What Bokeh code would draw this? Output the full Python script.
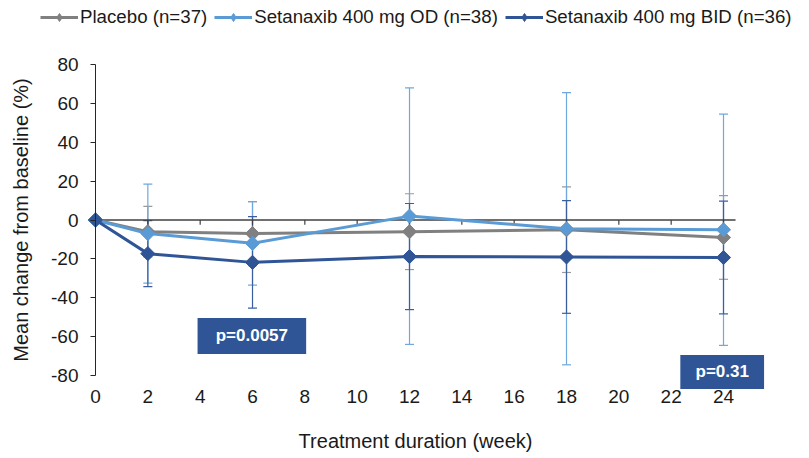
import math
from bokeh.plotting import figure
from bokeh.models import (ColumnDataSource, Whisker, TeeHead, Legend, LegendItem,
                          FixedTicker, BoxAnnotation, Label, Range1d, CustomJSTickFormatter)
from bokeh.embed import file_html
from bokeh.resources import INLINE

# ---- data ----
weeks = [0, 2, 6, 12, 18, 24]
placebo_mean = [0, -6.0, -7.0, -6.0, -5.0, -9.0]
placebo_sd = [0, 13.0, 16.5, 19.5, 22.0, 21.5]
od_mean = [0, -7.0, -12.0, 2.0, -4.5, -5.0]
od_sd = [0, 25.5, 21.5, 66.0, 70.0, 59.5]
bid_mean = [0, -17.3, -21.8, -18.8, -19.0, -19.3]
bid_sd = [0, 17.0, 23.5, 27.3, 29.0, 29.0]
series_labels = ["Placebo (n=37)", "Setanaxib 400 mg OD (n=38)", "Setanaxib 400 mg BID (n=36)"]
x_ticks = list(range(0, 25, 2))
y_ticks = list(range(-80, 81, 20))
p_labels = ["p=0.0057", "p=0.31"]
x_title = "Treatment duration (week)"
y_title = "Mean change from baseline (%)"

# ---- styling / layout ----
colors = ["#808080", "#5B9BD5", "#2F5597"]
bar_colors = ["#9a9a9a", "#6fa8dc", "#3b5f9e"]
FONT = "Liberation Sans"
TXT = "#1a1a1a"
X_AXIS_BOUNDS = (0, 24.46)   # extent of the x axis line (drawn at y=0)
Y_AXIS_BOUNDS = (-80, 80)
X_LABEL_ROW = -87.2          # where the x tick labels hang from
X_TITLE_Y = -113.9
# p-value boxes (data coordinates): left, right, bottom, top
p_boxes = [(3.9, 8.05, -68.9, -50.4), (22.35, 25.55, -86.9, -69.4)]

# the frame covers the whole canvas; axes are placed at fixed locations inside it
p = figure(width=806, height=458, x_range=Range1d(-3.631, 27.172), y_range=Range1d(-122.7, 112.93),
           output_backend="svg", toolbar_location=None,
           min_border_left=0, min_border_right=0, min_border_top=0, min_border_bottom=0)
p.grid.visible = False
p.outline_line_color = None
p.background_fill_color = "white"
p.border_fill_color = "white"

fmt = CustomJSTickFormatter(code="return String(tick);")

# x axis: tick labels only
p.xaxis.fixed_location = X_LABEL_ROW
p.xaxis.ticker = FixedTicker(ticks=x_ticks)
p.xaxis.formatter = fmt
p.xaxis.bounds = X_AXIS_BOUNDS
p.xaxis.axis_line_color = None
p.xaxis.major_tick_line_color = None
p.xaxis.minor_tick_line_color = None
p.xaxis.major_tick_out = 0
p.xaxis.major_tick_in = 0
p.xaxis.major_label_standoff = 1
p.xaxis.major_label_text_font = FONT
p.xaxis.major_label_text_font_size = "19px"
p.xaxis.major_label_text_color = TXT

# y axis, drawn at x = 0
p.yaxis.fixed_location = 0
p.yaxis.ticker = FixedTicker(ticks=y_ticks)
p.yaxis.formatter = fmt
p.yaxis.bounds = Y_AXIS_BOUNDS
p.yaxis.axis_line_color = "#262626"
p.yaxis.axis_line_width = 1
p.yaxis.major_tick_line_color = "#262626"
p.yaxis.major_tick_out = 5
p.yaxis.major_tick_in = 0
p.yaxis.minor_tick_line_color = None
p.yaxis.major_label_standoff = 12
p.yaxis.major_label_text_font = FONT
p.yaxis.major_label_text_font_size = "19px"
p.yaxis.major_label_text_color = TXT
p.yaxis.axis_label = y_title
p.yaxis.axis_label_standoff = 16
p.yaxis.axis_label_text_font = FONT
p.yaxis.axis_label_text_font_size = "20px"
p.yaxis.axis_label_text_font_style = "normal"
p.yaxis.axis_label_text_color = TXT

# x axis title, centred under the axis line
p.add_layout(Label(x=sum(X_AXIS_BOUNDS) / 2, y=X_TITLE_Y, text=x_title, text_align="center",
                   text_baseline="middle", text_color=TXT, text_font=FONT,
                   text_font_size="20px"))

# zero line (category axis crossing at 0) with downward ticks
p.segment(x0=[X_AXIS_BOUNDS[0]], y0=[0], x1=[X_AXIS_BOUNDS[1]], y1=[0],
          line_color="#404040", line_width=1.5)
tick_len = 2.4
p.segment(x0=x_ticks, y0=[0] * len(x_ticks), x1=x_ticks, y1=[-tick_len] * len(x_ticks),
          line_color="#404040", line_width=1.2)

means = [placebo_mean, od_mean, bid_mean]
sds = [placebo_sd, od_sd, bid_sd]

# error bars
for m, s, c in zip(means, sds, bar_colors):
    xs = [w for w, sd in zip(weeks, s) if sd > 0]
    up = [mm + sd for mm, sd in zip(m, s) if sd > 0]
    lo = [mm - sd for mm, sd in zip(m, s) if sd > 0]
    src = ColumnDataSource(dict(x=xs, upper=up, lower=lo))
    p.add_layout(Whisker(base="x", upper="upper", lower="lower", source=src,
                         line_color=c, line_width=1.2,
                         upper_head=TeeHead(size=9, line_color=c, line_width=1.2),
                         lower_head=TeeHead(size=9, line_color=c, line_width=1.2)))

nan = float("nan")
items = []
for m, c, lbl in zip(means, colors, series_labels):
    src = ColumnDataSource(dict(x=weeks, y=m))
    lr = p.line("x", "y", source=src, line_color=c, line_width=3)
    p.scatter("x", "y", source=src, marker="square", angle=math.pi / 4, size=10,
              fill_color=c, line_color=c)
    # diamond used for the legend swatch only (its single point is not drawable)
    dr = p.scatter(x=[nan], y=[nan], marker="diamond", size=13, fill_color=c, line_color=c)
    items.append(LegendItem(label=lbl, renderers=[lr, dr]))

legend = Legend(items=items, location=(40, 430), orientation="horizontal",
                glyph_width=38, glyph_height=20, label_standoff=2, spacing=7,
                padding=0, margin=0, border_line_color=None, background_fill_alpha=0,
                label_text_font=FONT, label_text_font_size="18.7px", label_text_color=TXT)
p.add_layout(legend)

for (l, r, b, t), txt in zip(p_boxes, p_labels):
    p.add_layout(BoxAnnotation(left=l, right=r, bottom=b, top=t, fill_color="#2F5597",
                               fill_alpha=1, line_color=None, level="overlay"))
    p.add_layout(Label(x=(l + r) / 2, y=(b + t) / 2, text=txt, text_align="center",
                       text_baseline="middle", text_color="white", text_font=FONT,
                       text_font_style="bold", text_font_size="17px", level="overlay"))

open("out.html", "w").write(file_html(p, INLINE))
